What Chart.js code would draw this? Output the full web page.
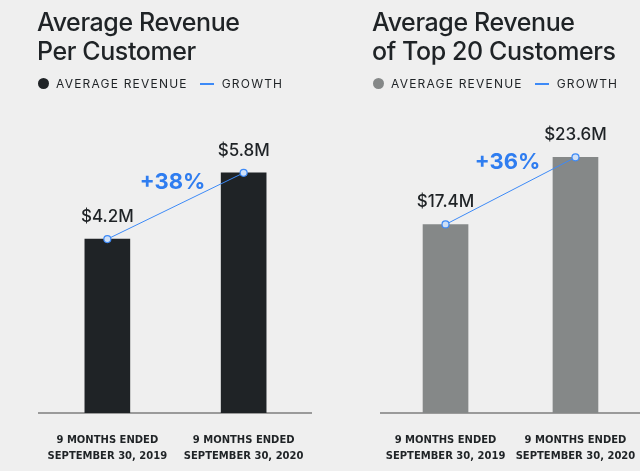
<!DOCTYPE html>
<html><head><meta charset="utf-8">
<script src="https://cdn.jsdelivr.net/npm/chart.js@4"></script>
<style>
body{margin:0;background:#efefef;width:640px;height:471px;overflow:hidden;position:relative;font-family:Inter,"Noto Sans",sans-serif}
.t{position:absolute;font-size:25px;line-height:29px;font-weight:500;color:#1f2326;letter-spacing:-0.4px;z-index:2}
.lg{position:absolute;top:76px;font-size:12px;letter-spacing:1.2px;color:#1f2326;z-index:2;display:flex;align-items:center}
.dot{width:11px;height:11px;border-radius:50%;display:inline-block;margin-right:7px}
.ln{width:14px;height:2px;background:#3d8af7;display:inline-block;margin:0 8px 0 12px}
canvas{position:absolute}
.w{position:absolute;top:60px;height:411px}
</style></head><body>
<div class="t" style="left:37px;top:8px">Average Revenue<br>Per Customer</div>
<div class="lg" style="left:38px"><span class="dot" style="background:#1f2326"></span>AVERAGE REVENUE<span class="ln"></span>GROWTH</div>
<div class="t" style="left:372px;top:8px">Average Revenue<br>of Top 20 Customers</div>
<div class="lg" style="left:373px"><span class="dot" style="background:#858888"></span>AVERAGE REVENUE<span class="ln"></span>GROWTH</div>
<div class="w" style="left:34px;width:283px"><canvas id="c1"></canvas></div>
<div class="w" style="left:373px;width:275px"><canvas id="c2"></canvas></div>
<script>
const categories=[["9 MONTHS ENDED","SEPTEMBER 30, 2019"],["9 MONTHS ENDED","SEPTEMBER 30, 2020"]];
const avgRevenue=[4.2,5.8];
const avgLabels=["$4.2M","$5.8M"];
const avgGrowth="+38%";
const top20Revenue=[17.4,23.6];
const top20Labels=["$17.4M","$23.6M"];
const top20Growth="+36%";

function make(id,vals,labels,growth,color,max,gOff){
  const plugin={id:'lbl',afterDatasetsDraw(ch){
    const c=ch.ctx,m=ch.getDatasetMeta(0);
    c.save();c.fillStyle='#1f2326';c.font='500 17px Inter, sans-serif';c.textAlign='center';c.textBaseline='alphabetic';
    m.data.forEach((b,i)=>c.fillText(labels[i],b.x,b.y-17));
    const lm=ch.getDatasetMeta(1).data;
    c.fillStyle='#2f7df0';c.font='bold 22px Inter, sans-serif';c.textBaseline='middle';
    c.fillText(growth,(lm[0].x+lm[1].x)/2-3,(lm[0].y+lm[1].y)/2-gOff);
    c.restore();}};
  new Chart(document.getElementById(id),{
    data:{labels:categories,datasets:[
      {type:'bar',data:vals,backgroundColor:color,barThickness:45,order:2},
      {type:'line',data:vals,borderColor:'#3d8af7',borderWidth:1,pointRadius:3.5,pointBackgroundColor:'#cfe0f7',pointBorderColor:'#3d8af7',pointBorderWidth:1.2,order:1}]},
    options:{responsive:true,maintainAspectRatio:false,animation:false,
      layout:{padding:0},
      plugins:{legend:{display:false},tooltip:{enabled:false}},
      scales:{
        y:{display:false,min:0,max:max},
        x:{grid:{display:false},border:{color:'#9a9a9a',width:2},
          afterFit(s){s.height=58;},
          ticks:{autoSkip:false,color:'#1f2326',font:{family:'"DejaVu Sans", sans-serif',size:10,weight:'bold',lineHeight:1.55},padding:12,maxRotation:0}}}},
    plugins:[plugin]});
}
make('c1',avgRevenue,avgLabels,avgGrowth,'#1f2326',8.4,24);
make('c2',top20Revenue,top20Labels,top20Growth,'#858888',32.1,28);
</script></body></html>
